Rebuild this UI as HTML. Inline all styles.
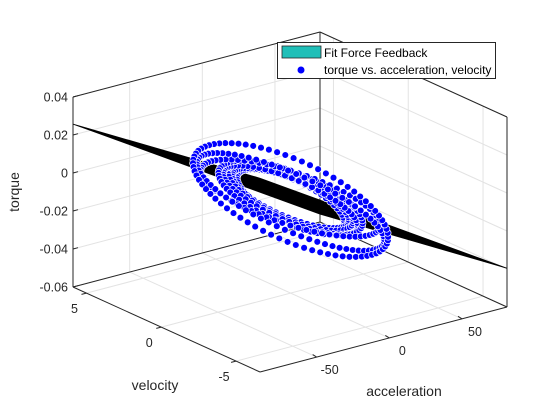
<!DOCTYPE html>
<html><head><meta charset="utf-8"><style>
html,body{margin:0;padding:0;background:#fff;}
svg{display:block;font-family:"Liberation Sans",Arial,sans-serif;}
</style></head><body>
<svg id="chart" width="560" height="420" viewBox="0 0 560 420">
<rect width="560" height="420" fill="#fff"/>
<g id="grid"></g>
<g id="box"></g>
<g id="plane"></g>
<g id="dots"></g>
<g id="ticks"></g>
<text x="19" y="192" font-size="14" fill="#262626" text-anchor="middle" transform="rotate(-90 19 192)">torque</text>
<text x="155" y="390" font-size="14" fill="#262626" text-anchor="middle">velocity</text>
<text x="404" y="396" font-size="14" fill="#262626" text-anchor="middle">acceleration</text>
<g>
<rect x="277.5" y="42.5" width="218" height="36" fill="#fff" stroke="#262626" stroke-width="1"/>
<rect x="282" y="46" width="39" height="12" fill="#1fbfb8" stroke="#262626" stroke-width="0.8"/>
<text x="324" y="57" font-size="12" fill="#000">Fit Force Feedback</text>
<circle cx="301" cy="70" r="3.5" fill="#0000ff"/>
<text x="324" y="74" font-size="12" fill="#000">torque vs. acceleration, velocity</text>
</g>
</svg>
<script>
const accTicks=[-50,0,50];
const velTicks=[-5,0,5];
const torqueTicks=[-0.06,-0.04,-0.02,0,0.02,0.04];
const torqueTickLabels=["-0.06","-0.04","-0.02","0","0.02","0.04"];
const accRange=[-89,81];
const velRange=[-6.6,5.9];
const torqueRange=[-0.06,0.04];
const planeCoef=[-0.0093,-0.00048,-0.0013];
const ringAccAmp=[62,60,58,46,43,40,37,34];
const ringVelAmp=[-2.5,-2.3,-2.1,-1.8,-1.7,-1.6,-1.5,-1.4];
const ringTorqueAmp=[0.0219,0.025,0.020,0.016,0.017,0.015,0.014,0.013];
const ringTorqueVel=[0.0195,0.014,0.011,0.012,0.010,0.011,0.009,0.010];
const ringCenterTorque=[-0.011,-0.012,-0.010,-0.010,-0.011,-0.009,-0.010,-0.011];
const ringPoints=[74,72,70,64,62,60,58,56];

const NS="http://www.w3.org/2000/svg";
function P(a,v,z){
  const fa=(a-accRange[0])/(accRange[1]-accRange[0]);
  const fv=(velRange[1]-v)/(velRange[1]-velRange[0]);
  const fz=(z-torqueRange[0])/(torqueRange[1]-torqueRange[0]);
  return [73+fv*187+fa*247, 287+fv*85-fa*65-fz*190];
}
function mk(tag,attrs,parent){const e=document.createElementNS(NS,tag);for(const k in attrs)e.setAttribute(k,attrs[k]);parent.appendChild(e);return e;}
function line(p,q,col,w,parent){return mk('line',{x1:p[0],y1:p[1],x2:q[0],y2:q[1],stroke:col,'stroke-width':w},parent);}
const A0=accRange[0],A1=accRange[1],V0=velRange[0],V1=velRange[1],Z0=torqueRange[0],Z1=torqueRange[1];
const grid=document.getElementById('grid');
const gc="#e3e3e3";
torqueTicks.forEach(z=>{
  let l=line(P(A0,V1,z),P(A1,V1,z),gc,1,grid);
  
  
  l=line(P(A1,V1,z),P(A1,V0,z),gc,1,grid);
  
  
});
accTicks.forEach(a=>{
  let l=line(P(a,V1,Z0),P(a,V1,Z1),gc,1,grid);
  
  
  l=line(P(a,V1,Z0),P(a,V0,Z0),gc,1,grid);
  
  
});
velTicks.forEach(v=>{
  let l=line(P(A1,v,Z0),P(A1,v,Z1),gc,1,grid);
  
  
  l=line(P(A0,v,Z0),P(A1,v,Z0),gc,1,grid);
  
  
});
const box=document.getElementById('box');
const bc="#262626";
[[P(A0,V1,Z0),P(A0,V1,Z1)],[P(A0,V1,Z0),P(A0,V0,Z0)],[P(A0,V0,Z0),P(A1,V0,Z0)],[P(A1,V0,Z0),P(A1,V0,Z1)],
 [P(A0,V1,Z1),P(A1,V1,Z1)],[P(A1,V1,Z1),P(A1,V0,Z1)],[P(A1,V1,Z1),P(A1,V1,Z0)],[P(A0,V1,Z0),P(A1,V1,Z0)],[P(A1,V1,Z0),P(A1,V0,Z0)]].forEach(s=>{
  const l=line(s[0],s[1],bc,1,box);
  
  
});
const pl=document.getElementById('plane');
function pz(a,v){return planeCoef[0]+planeCoef[1]*a+planeCoef[2]*v;}
const corners=[[A0,V1],[A0,V0],[A1,V0],[A1,V1]].map(c=>P(c[0],c[1],pz(c[0],c[1])));
const poly=mk('polygon',{points:corners.map(p=>p.join(',')).join(' '),fill:'#000',stroke:'#000','stroke-width':0.8},pl);


const dg=document.getElementById('dots');
for(let r=ringAccAmp.length-1;r>=0;r--){
  const n=ringPoints[r];
  for(let i=0;i<n;i++){
    const t=2*Math.PI*i/n;
    const a=ringAccAmp[r]*Math.sin(t), v=ringVelAmp[r]*Math.cos(t);
    const z=ringCenterTorque[r]-ringTorqueAmp[r]*Math.sin(t)-ringTorqueVel[r]*Math.cos(t);
    const p=P(a,v,z);
    const c=mk('circle',{cx:p[0].toFixed(1),cy:p[1].toFixed(1),r:3.4,fill:'#0000ff',stroke:'#ffffff','stroke-width':0.7},dg);
    
    
  }
}
const tg=document.getElementById('ticks');
torqueTicks.forEach((z,i)=>{
  const p=P(A0,V1,z);
  const l=line(p,[p[0]+5,p[1]-1.3],bc,1,tg);
  
  
  const t=mk('text',{x:p[0]-5,y:p[1]+4.5,'font-size':12.5,fill:'#262626','text-anchor':'end'},tg);
  t.textContent=torqueTickLabels[i];
  
  
});
velTicks.forEach(v=>{
  const p=P(A0,v,Z0);
  const l=line(p,[p[0]-5,p[1]+1.3],bc,1,tg);
  
  
  const t=mk('text',{x:p[0]-12,y:p[1]+20,'font-size':12.5,fill:'#262626','text-anchor':'middle'},tg);
  t.textContent=String(v);
  
  
});
accTicks.forEach(a=>{
  const p=P(a,V0,Z0);
  const l=line(p,[p[0]-4,p[1]-2.5],bc,1,tg);
  
  
  const t=mk('text',{x:p[0]+13,y:p[1]+17,'font-size':12.5,fill:'#262626','text-anchor':'middle'},tg);
  t.textContent=String(a);
  
  
});
</script>
</body></html>
